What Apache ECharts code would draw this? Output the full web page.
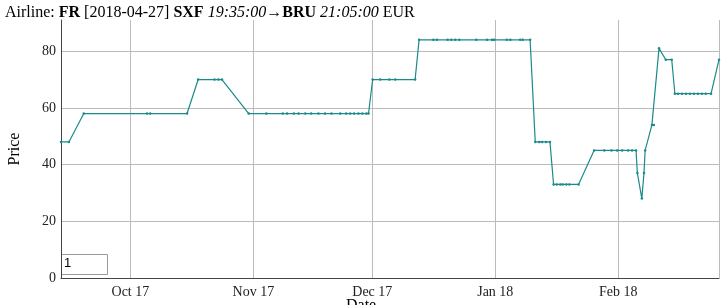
<!DOCTYPE html>
<html>
<head>
<meta charset="utf-8">
<script src="https://cdn.jsdelivr.net/npm/echarts@6/dist/echarts.min.js"></script>
<style>
  html, body { margin: 0; padding: 0; background: #fff; }
  #chart { width: 724px; height: 305px; }
</style>
</head>
<body>
<div id="chart"></div>
<script>
// price history, dates
const dates = [
  '2017-09-13 12:00', '2017-09-15 12:00', '2017-09-19 06:00', '2017-10-05 05:00', '2017-10-06 00:00',
  '2017-10-15 07:00', '2017-10-18 02:00', '2017-10-22 05:00', '2017-10-23 05:00', '2017-10-24 02:00',
  '2017-10-30 20:00', '2017-11-04 07:00', '2017-11-08 10:00', '2017-11-09 12:00', '2017-11-11 05:00',
  '2017-11-12 10:00', '2017-11-14 02:00', '2017-11-15 14:00', '2017-11-17 10:00', '2017-11-19 02:00',
  '2017-11-20 17:00', '2017-11-22 22:00', '2017-11-24 10:00', '2017-11-25 10:00', '2017-11-26 10:00',
  '2017-11-27 12:00', '2017-11-28 12:00', '2017-11-29 12:00', '2017-11-30 01:00', '2017-12-01 02:00',
  '2017-12-03 00:00', '2017-12-05 07:00', '2017-12-06 19:00', '2017-12-11 19:00', '2017-12-12 19:00',
  '2017-12-16 10:00', '2017-12-17 07:00', '2017-12-20 00:00', '2017-12-20 22:00', '2017-12-21 22:00',
  '2017-12-22 22:00', '2017-12-27 05:00', '2017-12-29 22:00', '2017-12-31 05:00', '2017-12-31 17:00',
  '2018-01-03 22:00', '2018-01-04 19:00', '2018-01-07 07:00', '2018-01-07 22:00', '2018-01-09 19:00',
  '2018-01-11 02:00', '2018-01-12 02:00', '2018-01-12 19:00', '2018-01-13 19:00', '2018-01-14 19:00',
  '2018-01-15 17:00', '2018-01-16 12:00', '2018-01-17 10:00', '2018-01-18 00:00', '2018-01-18 22:00',
  '2018-01-19 17:00', '2018-01-22 00:00', '2018-01-25 22:00', '2018-01-28 12:00', '2018-01-30 07:00',
  '2018-01-31 17:00', '2018-02-02 00:00', '2018-02-03 12:00', '2018-02-04 12:00', '2018-02-05 12:00',
  '2018-02-05 20:00', '2018-02-06 23:00', '2018-02-07 12:00', '2018-02-07 19:00', '2018-02-09 12:00',
  '2018-02-10 00:00', '2018-02-11 07:00', '2018-02-13 00:00', '2018-02-14 12:00', '2018-02-15 07:00',
  '2018-02-16 02:00', '2018-02-17 02:00', '2018-02-18 02:00', '2018-02-19 02:00', '2018-02-20 02:00',
  '2018-02-21 02:00', '2018-02-22 02:00', '2018-02-23 02:00', '2018-02-24 10:00', '2018-02-26 10:00'
];
const prices = [
  48, 48, 58, 58, 58,
  58, 70, 70, 70, 70,
  58, 58, 58, 58, 58,
  58, 58, 58, 58, 58,
  58, 58, 58, 58, 58,
  58, 58, 58, 58, 70,
  70, 70, 70, 70, 84,
  84, 84, 84, 84, 84,
  84, 84, 84, 84, 84,
  84, 84, 84, 84, 84,
  48, 48, 48, 48, 48,
  33, 33, 33, 33, 33,
  33, 33, 45, 45, 45,
  45, 45, 45, 45, 45,
  37, 28, 37, 45, 54,
  54, 81, 77, 77, 65,
  65, 65, 65, 65, 65,
  65, 65, 65, 65, 77
];
const yTicks = [0, 20, 40, 60, 80];
const months = ['Jan', 'Feb', 'Mar', 'Apr', 'May', 'Jun', 'Jul', 'Aug', 'Sep', 'Oct', 'Nov', 'Dec'];

const serif = '"Liberation Serif", "DejaVu Serif", serif';
const chart = echarts.init(document.getElementById('chart'));

chart.setOption({
  animation: false,
  title: {
    left: 0,
    top: 0,
    text: 'Airline: {b|FR} [2018-04-27] {b|SXF} {i|19:35:00}→{b|BRU} {i|21:05:00} EUR',
    textStyle: {
      fontFamily: serif, fontSize: 16, fontWeight: 'normal', color: '#000',
      rich: {
        b: { fontFamily: serif, fontSize: 16, fontWeight: 'bold', color: '#000' },
        i: { fontFamily: serif, fontSize: 16, fontStyle: 'italic', color: '#000' }
      }
    }
  },
  grid: { left: 61, right: 5, top: 20, bottom: 27, containLabel: false, outerBoundsMode: 'none' },
  xAxis: {
    type: 'time',
    min: '2017-09-13 12:00',
    max: '2018-02-26 10:00',
    minInterval: 28 * 86400000,
    maxInterval: 31 * 86400000,
    axisLine: { lineStyle: { color: '#444', width: 1 } },
    axisTick: { show: false },
    axisLabel: {
      fontFamily: serif, fontSize: 14, color: '#222', margin: 7,
      showMinLabel: false, showMaxLabel: false,
      formatter: function (v) {
        const d = new Date(v);
        return months[d.getMonth()] + ' ' + String(d.getFullYear()).slice(2);
      }
    },
    splitLine: { show: true, lineStyle: { color: '#bbb', width: 1 } }
  },
  yAxis: {
    type: 'value',
    min: 0,
    max: 91,
    interval: 20,
    name: 'Price',
    nameLocation: 'middle',
    nameGap: 38,
    nameRotate: 90,
    nameTextStyle: { fontFamily: serif, fontSize: 16, color: '#000' },
    axisLine: { show: true, lineStyle: { color: '#444', width: 1 } },
    axisTick: { show: false },
    axisLabel: {
      fontFamily: serif, fontSize: 14, color: '#222', margin: 5,
      showMaxLabel: false,
      formatter: function (v) { return yTicks.indexOf(v) >= 0 ? String(v) : ''; }
    },
    splitLine: { show: true, showMaxLine: false, lineStyle: { color: '#bbb', width: 1 } }
  },
  graphic: [
    {
      type: 'rect', left: 61, top: 254,
      shape: { width: 46, height: 20 },
      style: { fill: '#fff', stroke: '#999', lineWidth: 1 }
    },
    {
      type: 'text', left: 64, top: 257,
      style: { text: '1', fontFamily: '"Liberation Sans", Arial, sans-serif', fontSize: 13, fill: '#000' }
    },
    {
      // x axis title, mostly cut off by the bottom edge
      type: 'text', left: 346, top: 298,
      style: { text: 'Date', fontFamily: serif, fontSize: 16, fill: '#000' }
    }
  ],
  series: [{
    type: 'line',
    data: dates.map((d, i) => [d, prices[i]]),
    symbol: 'circle',
    symbolSize: 2.5,
    showSymbol: true,
    lineStyle: { color: '#1b8a8a', width: 1.2 },
    itemStyle: { color: '#1b8a8a' }
  }]
});
</script>
</body>
</html>
